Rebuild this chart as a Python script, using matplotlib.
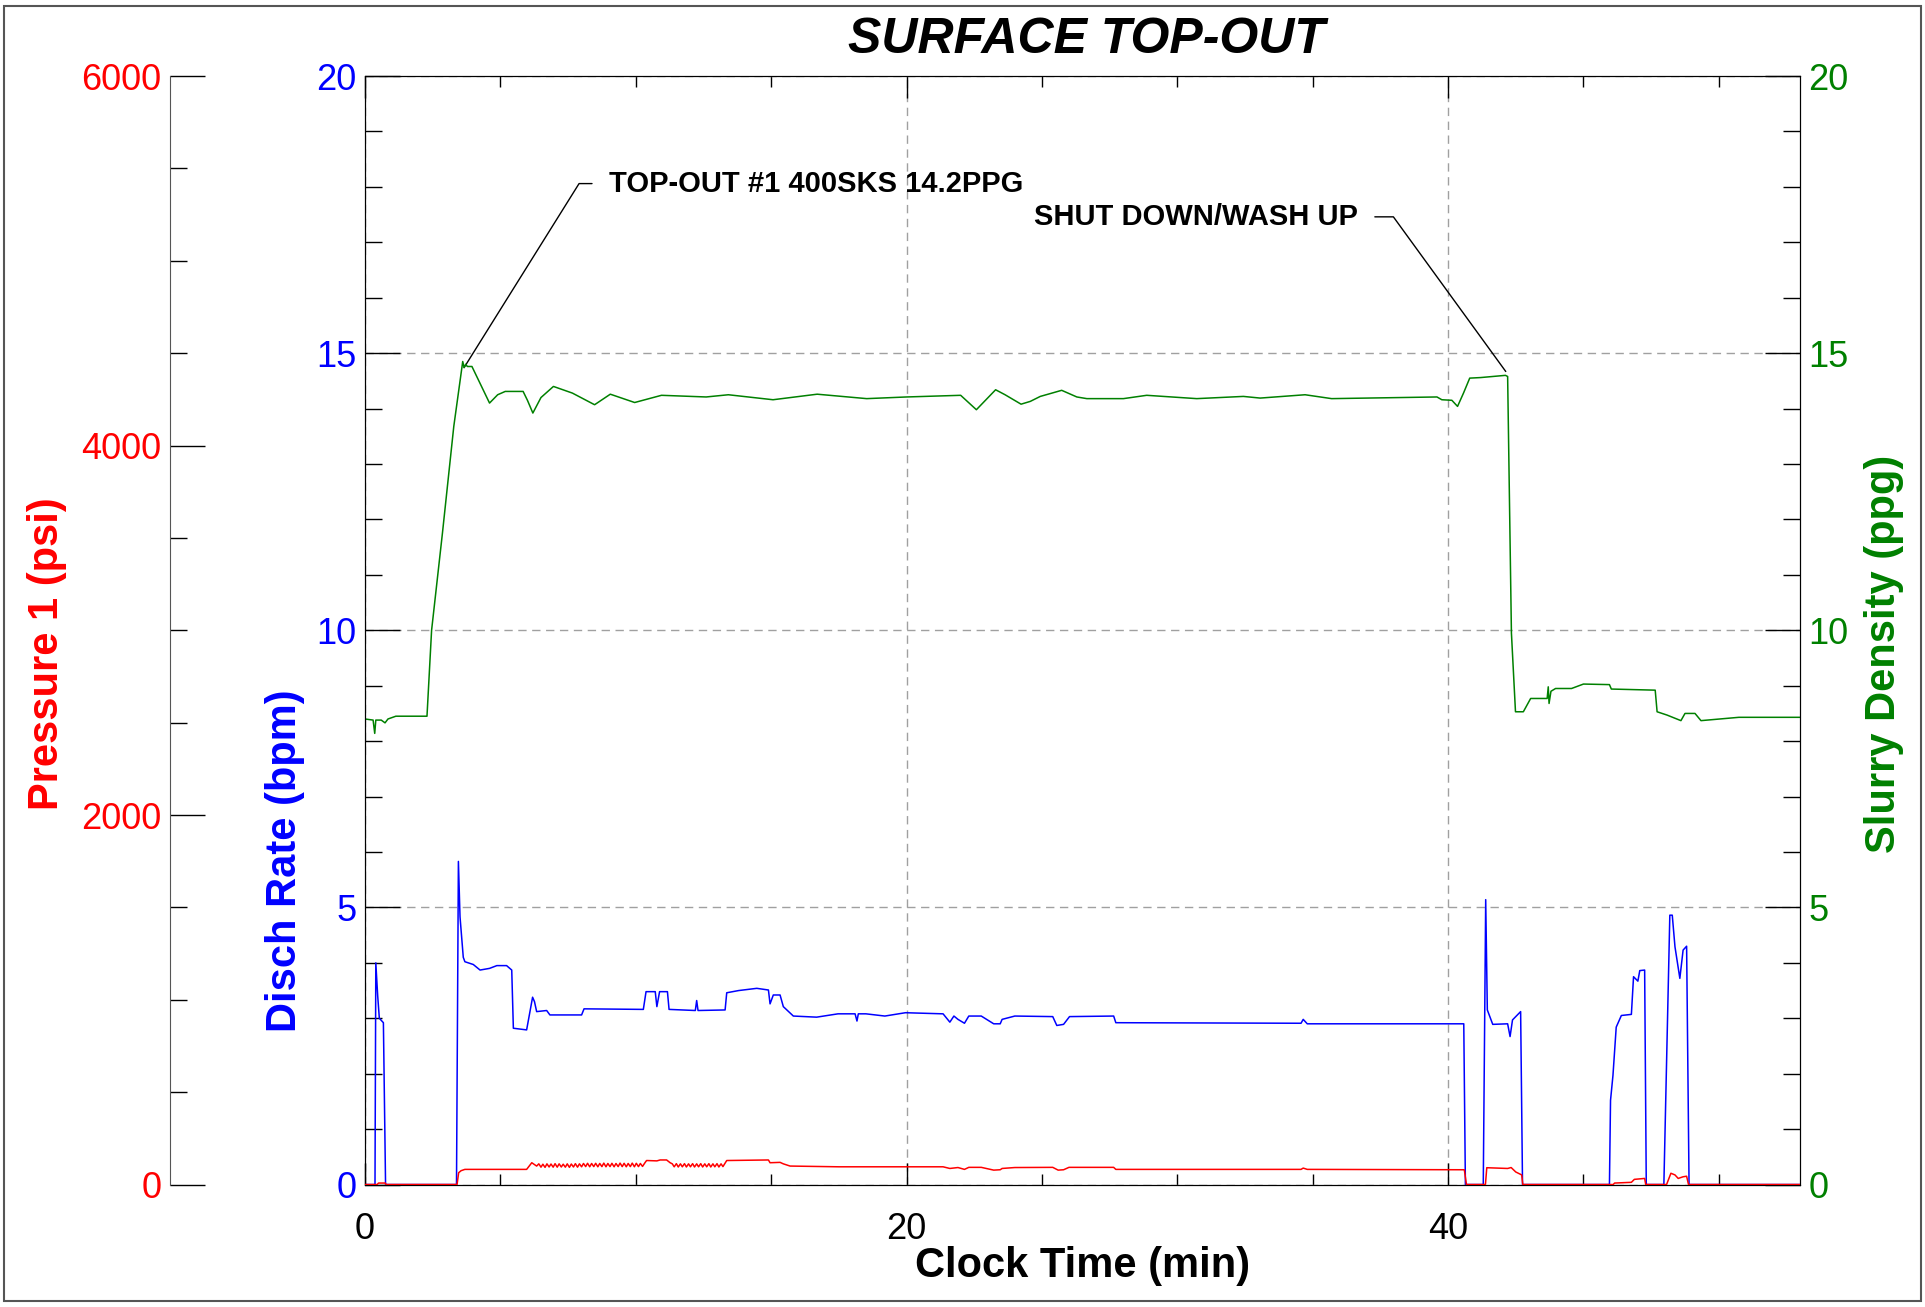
import numpy as np
import matplotlib
matplotlib.use("Agg")
import matplotlib.pyplot as plt
from matplotlib.ticker import MultipleLocator
from matplotlib.patches import Rectangle

plt.rcParams['font.family'] = ['Liberation Sans', 'DejaVu Sans']

# Disch Rate (bpm) vs clock time (min)
rate_t = [0.0, 0.37, 0.40, 0.47, 0.53, 0.68, 0.76, 3.38, 3.45, 3.51, 3.63, 3.69, 4.0, 4.25,
          4.6, 4.87, 5.23, 5.42, 5.48, 5.97, 6.19, 6.26, 6.34, 6.71, 6.83, 8.0, 8.09, 10.28,
          10.38, 10.72, 10.78, 10.88, 11.17, 11.23, 12.2, 12.25, 12.3, 13.3, 13.36, 13.8,
          14.47, 14.9, 14.96, 15.08, 15.33, 15.45, 15.82, 16.68, 17.47, 18.1, 18.17, 18.22,
          18.5, 19.2, 19.96, 21.35, 21.6, 21.75, 21.9, 22.14, 22.3, 22.76, 23.22, 23.46,
          23.53, 24.0, 25.4, 25.55, 25.8, 26.02, 27.65, 27.73, 34.57, 34.65, 34.8, 40.58,
          40.64, 41.3, 41.39, 41.45, 41.65, 42.2, 42.29, 42.38, 42.68, 42.75, 45.96, 46.0,
          46.09, 46.21, 46.4, 46.77, 46.85, 47.01, 47.08, 47.26, 47.32, 47.97, 48.19, 48.28,
          48.38, 48.56, 48.68, 48.81, 48.9, 53.0]
rate_v = [0, 0, 4.0, 3.4, 3.0, 2.92, 0, 0, 5.83, 4.83, 4.1, 4.02, 3.97, 3.87,
          3.9, 3.95, 3.95, 3.87, 2.82, 2.79, 3.38, 3.3, 3.12, 3.14, 3.06, 3.06, 3.17, 3.16,
          3.48, 3.48, 3.21, 3.48, 3.48, 3.16, 3.14, 3.32, 3.14, 3.15, 3.46, 3.5,
          3.54, 3.51, 3.26, 3.42, 3.42, 3.21, 3.04, 3.02, 3.08, 3.08, 2.95, 3.08,
          3.08, 3.04, 3.1, 3.08, 2.93, 3.04, 2.98, 2.91, 3.04, 3.04, 2.9, 2.9,
          2.98, 3.04, 3.03, 2.87, 2.89, 3.03, 3.04, 2.92, 2.91, 2.98, 2.9, 2.9,
          0, 0, 5.14, 3.15, 2.89, 2.9, 2.67, 2.97, 3.12, 0, 0, 1.52,
          1.97, 2.84, 3.05, 3.07, 3.75, 3.67, 3.86, 3.87, 0, 0, 4.86, 4.86,
          4.29, 3.72, 4.23, 4.3, 0, 0]

# Slurry Density (ppg)
dens_t = [0.0, 0.30, 0.36, 0.40, 0.6, 0.74, 0.85, 1.14, 2.29, 2.46, 2.86, 3.28, 3.61, 3.66,
          3.72, 3.78, 3.95, 4.6, 4.9, 5.18, 5.84, 6.0, 6.2, 6.5, 6.96, 7.66, 8.48, 9.06,
          9.96, 10.95, 12.6, 13.42, 15.07, 16.7, 18.53, 20.0, 22.0, 22.58, 23.29, 23.64,
          24.23, 24.57, 24.94, 25.3, 25.73, 26.29, 26.66, 28.01, 28.87, 30.72, 32.44, 33.06,
          34.72, 35.7, 39.59, 39.77, 40.14, 40.35, 40.57, 40.8, 41.2, 42.12, 42.2, 42.34,
          42.49, 42.78, 43.05, 43.66, 43.7, 43.73, 43.8, 43.97, 44.56, 45.0, 45.96, 46.03,
          47.65, 47.72, 48.09, 48.6, 48.75, 49.12, 49.34, 50.74, 53.0]
dens_v = [8.40, 8.38, 8.14, 8.38, 8.38, 8.33, 8.40, 8.45, 8.45, 10.0, 11.75, 13.68, 14.85, 14.74,
          14.8, 14.76, 14.76, 14.1, 14.25, 14.31, 14.31, 14.15, 13.92, 14.2, 14.4, 14.28, 14.07, 14.26,
          14.11, 14.24, 14.21, 14.25, 14.16, 14.26, 14.18, 14.21, 14.24, 13.98, 14.34, 14.25,
          14.08, 14.13, 14.22, 14.27, 14.33, 14.21, 14.18, 14.18, 14.24, 14.18, 14.22, 14.19,
          14.25, 14.18, 14.21, 14.16, 14.15, 14.04, 14.28, 14.55, 14.56, 14.6, 14.58, 9.95,
          8.53, 8.53, 8.77, 8.77, 8.98, 8.68, 8.9, 8.95, 8.95, 9.03, 9.02, 8.94,
          8.92, 8.53, 8.47, 8.37, 8.5, 8.5, 8.37, 8.43, 8.43]

# Pressure 1 (psi), in segments
pres_a_t = [0.0, 0.45, 0.5, 0.75, 0.78, 3.40, 3.46, 3.55, 3.69, 5.97, 6.16, 6.34]
pres_a_v = [0, 0, 8, 8, 0, 0, 64, 75, 82, 82, 118, 100]
zig1_t = [6.42, 6.50, 6.57, 6.65, 6.72, 6.80, 6.87, 6.95, 7.02, 7.10,
          7.17, 7.25, 7.32, 7.40, 7.47, 7.55, 7.62, 7.70, 7.77, 7.85,
          7.92, 8.00, 8.07, 8.15, 8.22, 8.30, 8.37, 8.45, 8.52, 8.60,
          8.67, 8.75, 8.82, 8.90, 8.97, 9.05, 9.12, 9.20, 9.27, 9.35,
          9.42, 9.50, 9.57, 9.65, 9.72, 9.80, 9.87, 9.95, 10.02, 10.10,
          10.17, 10.25]
zig1_v = [112, 94, 110, 93, 112, 95, 111, 94, 113, 94,
          112, 95, 110, 94, 112, 93, 111, 95, 113, 94,
          112, 96, 114, 97, 115, 96, 114, 97, 115, 96,
          114, 97, 116, 96, 114, 97, 115, 96, 114, 97,
          116, 97, 115, 96, 114, 97, 116, 96, 115, 97,
          114, 98]
pres_b_t = [10.34, 10.40, 10.78, 10.90, 11.14, 11.27]
pres_b_v = [118, 130, 128, 133, 133, 118]
zig2_t = [11.35, 11.42, 11.50, 11.57, 11.65, 11.72, 11.80, 11.87, 11.95, 12.02,
          12.10, 12.17, 12.25, 12.32, 12.40, 12.47, 12.55, 12.62, 12.70, 12.77,
          12.85, 12.92, 13.00, 13.07, 13.15, 13.22]
zig2_v = [112, 96, 113, 95, 112, 96, 113, 95, 112, 96,
          113, 95, 112, 96, 113, 95, 112, 96, 113, 95,
          112, 96, 113, 95, 112, 97]
pres_c_t = [13.36, 14.90, 14.96, 15.33, 15.45, 15.7, 17.5, 19.96, 21.35, 21.6, 21.9, 22.14,
            22.3, 22.76, 23.22, 23.46, 23.53, 24.0, 25.4, 25.6, 25.8, 26.0, 27.65, 27.73,
            34.57, 34.65, 34.8, 40.45, 40.6, 40.68, 41.38, 41.43, 42.2, 42.33, 42.5, 42.72,
            42.76, 46.1, 46.15, 46.77, 46.88, 47.26, 47.3, 48.07, 48.23, 48.38, 48.5, 48.68,
            48.81, 48.88, 53.0]
pres_c_v = [130, 133, 118, 120, 112, 100, 96, 96, 96, 87, 92, 82,
            93, 93, 78, 80, 87, 92, 93, 78, 80, 93, 93, 82,
            82, 89, 82, 80, 80, 0, 0, 91, 87, 92, 68, 52,
            0, 0, 8, 12, 28, 33, 0, 0, 61, 52, 33, 42,
            45, 0, 0]

pres_t = pres_a_t + zig1_t + pres_b_t + zig2_t + pres_c_t
pres_v = pres_a_v + zig1_v + pres_b_v + zig2_v + pres_c_v

fig = plt.figure(figsize=(19.25, 13.07), dpi=100)
ax = fig.add_axes([0.1896, 0.0937, 0.7455, 0.8481])
ax_g = ax.twinx()
ax_r = ax.twinx()

ax.plot(rate_t, rate_v, color='#0000ff', lw=1.1)
ax_g.plot(dens_t, dens_v, color='#008000', lw=1.1)
ax_r.plot(pres_t, pres_v, color='#ff0000', lw=1.1)

ax.set_xlim(0, 53)
ax.set_ylim(0, 20)
ax_g.set_ylim(0, 20)
ax_r.set_ylim(0, 6000)

ax.xaxis.set_major_locator(MultipleLocator(20))
ax.xaxis.set_minor_locator(MultipleLocator(5))
for a in (ax, ax_g):
    a.yaxis.set_major_locator(MultipleLocator(5))
    a.yaxis.set_minor_locator(MultipleLocator(1))
ax_r.yaxis.set_major_locator(MultipleLocator(2000))
ax_r.yaxis.set_minor_locator(MultipleLocator(500))

ax.tick_params(axis='x', which='major', direction='in', length=16, width=1,
               top=True, labelsize=26, pad=20)
ax.tick_params(axis='x', which='minor', direction='in', length=8, width=1, top=True)
ax.tick_params(axis='y', which='major', direction='in', length=25, width=1,
               labelsize=26, labelcolor='#0000ff', pad=6)
ax.tick_params(axis='y', which='minor', direction='in', length=12, width=1)
ax_g.tick_params(axis='y', which='major', direction='in', length=25, width=1,
                 labelsize=26, labelcolor='#008000', pad=6)
ax_g.tick_params(axis='y', which='minor', direction='in', length=12, width=1)

ax_r.yaxis.tick_left()
ax_r.yaxis.set_label_position('left')
ax_r.spines['left'].set_position(('axes', -0.1359))
ax_r.spines['left'].set_visible(True)
for s in ('right', 'top', 'bottom'):
    ax_r.spines[s].set_visible(False)
ax_r.spines['left'].set_color('#555555')
ax_r.tick_params(axis='y', which='major', direction='in', length=25, width=1,
                 labelsize=26, labelcolor='#ff0000', pad=6)
ax_r.tick_params(axis='y', which='minor', direction='in', length=12, width=1)

ax.grid(True, which='major', color='#a0a0a0', linestyle=(0, (6, 4)), lw=1)

lab = dict(fontsize=30, fontweight='bold')
ax.set_xlabel('Clock Time (min)', **lab)
ax.xaxis.set_label_coords(0.5003, -0.0735)
ax.xaxis.label.set_va('center')
ax.set_ylabel('Disch Rate (bpm)', color='#0000ff', **lab)
ax.yaxis.set_label_coords(-0.0557, 0.2918)
ax.yaxis.label.set_va('center')
ax_r.set_ylabel('Pressure 1 (psi)', color='#ff0000', **lab)
ax_r.yaxis.set_label_coords(-0.2216, 0.4786)
ax_r.yaxis.label.set_va('center')
ax_g.set_ylabel('Slurry Density (ppg)', color='#008000', rotation=90, **lab)
ax_g.yaxis.set_label_coords(1.0585, 0.4786)
ax_g.yaxis.label.set_va('center')

fig.text(1086 / 1925, 1 - 53 / 1307, 'SURFACE TOP-OUT', ha='center', va='baseline',
         fontsize=36, fontweight='bold', fontstyle='italic')

ax.annotate('TOP-OUT #1 400SKS 14.2PPG', xy=(3.66, 14.74), xytext=(9.0, 18.06),
            ha='left', va='center', fontsize=21, fontweight='bold',
            arrowprops=dict(arrowstyle='-', lw=1, color='black', relpos=(0, 0.5),
                            shrinkA=10, shrinkB=0,
                            connectionstyle='angle,angleA=180,angleB=58,rad=0'))
ax.annotate('SHUT DOWN/WASH UP', xy=(42.13, 14.67), xytext=(36.68, 17.46),
            ha='right', va='center', fontsize=21, fontweight='bold',
            arrowprops=dict(arrowstyle='-', lw=1, color='black', relpos=(1, 0.5),
                            shrinkA=10, shrinkB=0,
                            connectionstyle='angle,angleA=0,angleB=126,rad=0'))

fig.add_artist(Rectangle((4 / 1925, 6 / 1307), 1917 / 1925, 1295 / 1307,
                         transform=fig.transFigure, fill=False, ec='#555555', lw=1.5))

fig.savefig('out.png', dpi=100)
